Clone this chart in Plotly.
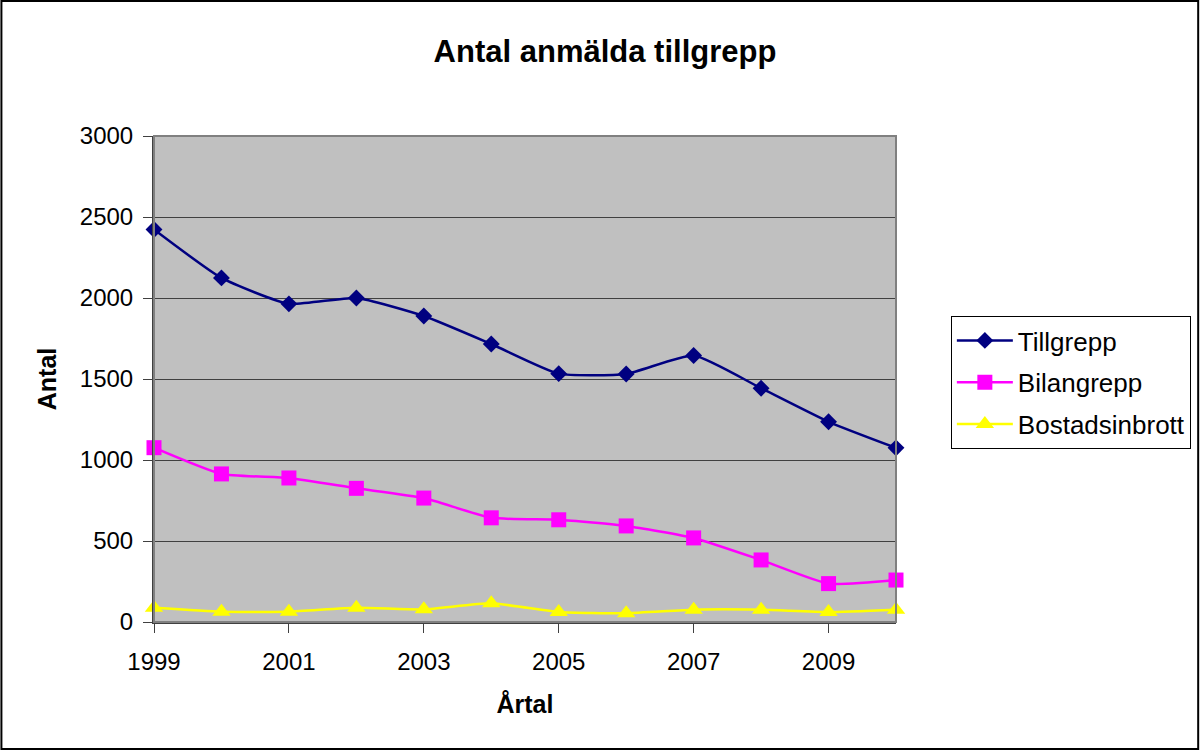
import plotly.graph_objects as go

years = list(range(1999, 2011))
tillgrepp = [2423, 2124, 1964, 2000, 1889, 1716, 1533, 1531, 1645, 1443, 1236, 1075]
bilangrepp = [1076, 914, 889, 825, 765, 643, 631, 593, 519, 383, 237, 259]
bostadsinbrott = [88, 64, 64, 88, 78, 115, 62, 54, 76, 76, 62, 76]

series_names = ["Tillgrepp", "Bilangrepp", "Bostadsinbrott"]
colors = ["#000080", "#FF00FF", "#FFFF00"]
symbols = ["diamond", "square", "triangle-up"]
sizes = [13, 15, 16]

fig = go.Figure()
for name, vals, c, s, sz in zip(series_names, [tillgrepp, bilangrepp, bostadsinbrott], colors, symbols, sizes):
    fig.add_trace(go.Scatter(
        x=years, y=vals, name=name, mode="lines+markers", legendgroup=name,
        line=dict(color=c, width=2.5, shape="spline", smoothing=0.5),
        marker=dict(symbol=s, size=sz, color=c, line=dict(width=0)),
        cliponaxis=False,
    ))

L, T, W, H = 154, 136, 1203, 751
pw, ph = 898 - 154, 622 - 136

fig.update_layout(
    width=W, height=H,
    margin=dict(l=L, r=W - 898, t=T, b=H - 622),
    paper_bgcolor="white",
    plot_bgcolor="#C0C0C0",
    font=dict(family="Liberation Sans, Arial, sans-serif", size=24, color="black"),
    title=dict(text="<b>Antal anmälda tillgrepp</b>", font=dict(size=31),
               x=605 / W, xanchor="center", y=1 - 51 / H, yanchor="middle",
               xref="container", yref="container"),
    legend=dict(x=(953 - L) / pw, y=(622 - 316) / ph, xanchor="left", yanchor="top",
                bordercolor="black", borderwidth=1, bgcolor="white",
                font=dict(size=26), tracegroupgap=5, itemwidth=56),
    showlegend=True,
    xaxis=dict(range=[1999, 2010], tickmode="linear", tick0=1999, dtick=2,
               showgrid=False, zeroline=False, ticks="outside", ticklen=9,
               tickcolor="#404040", showline=True, linecolor="#404040", linewidth=2,
               mirror=False, ticklabelstandoff=8,
               title=dict(text="<b>Årtal</b>", font=dict(size=25), standoff=22)),
    yaxis=dict(range=[0, 3000], tickmode="linear", tick0=0, dtick=500,
               showgrid=True, gridcolor="#404040", gridwidth=1, zeroline=False,
               ticks="outside", ticklen=9, tickcolor="#404040",
               showline=True, linecolor="#404040", linewidth=2, ticklabelstandoff=5,
               title=dict(text="<b>Antal</b>", font=dict(size=25), standoff=16)),
    shapes=[
        dict(type="rect", xref="paper", yref="paper",
             x0=0, x1=1, y0=0, y1=1, line=dict(color="#808080", width=2), layer="above"),
        dict(type="rect", xref="paper", yref="paper",
             x0=(1 - L) / pw, x1=(1201 - L) / pw,
             y0=(622 - 749) / ph, y1=(622 - 1) / ph,
             line=dict(color="black", width=2)),
    ],
)

fig.write_html("out.html", config={"displayModeBar": False})
with open("out.html", encoding="utf-8") as f:
    html = f.read()
html = html.replace("<head>", "<head><style>html,body{margin:0;padding:0;overflow:hidden;}</style>", 1)
with open("out.html", "w", encoding="utf-8") as f:
    f.write(html)
